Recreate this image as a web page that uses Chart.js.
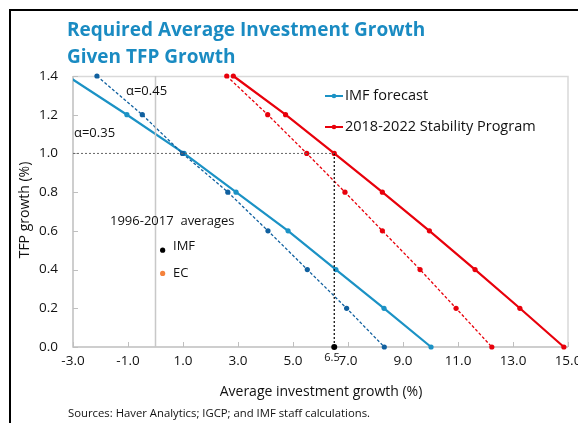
<!DOCTYPE html>
<html><head><meta charset="utf-8">
<script src="https://cdn.jsdelivr.net/npm/chart.js@4"></script>
<style>html,body{margin:0;padding:0;background:#fff}#wrap{width:578px;height:423px;position:relative}canvas{display:block}</style>
</head><body><div id="wrap"><canvas id="c" width="578" height="423"></canvas></div>
<script>
// ---- data ----
const tfpLevels   = [1.4, 1.2, 1.0, 0.8, 0.6, 0.4, 0.2, 0.0];
const imfAlpha035 = [-3.2, -1.04, 1.04, 2.93, 4.82, 6.56, 8.31, 10.02];
const imfAlpha045 = [-2.13, -0.48, 0.98, 2.63, 4.09, 5.52, 6.95, 8.32];
const spAlpha035  = [2.83, 4.73, 6.5, 8.25, 9.96, 11.62, 13.25, 14.85];
const spAlpha045  = [2.59, 4.08, 5.5, 6.89, 8.25, 9.62, 10.93, 12.23];
const avgIMF = {x: 0.26, y: 0.50};
const avgEC  = {x: 0.26, y: 0.38};
const targetTFP = 1.0;
const targetInv = 6.5;
const xMin = -3, xMax = 15, xStep = 2;
const yMin = 0, yMax = 1.4, yStep = 0.2;

const BLUE = '#1B92C5', DBLUE = '#10609F', RED = '#E8000B', ORANGE = '#F4823C';
const FONT = '"Open Sans", "Noto Sans", sans-serif';

const pts = arr => arr.map((x, i) => ({x: x, y: tfpLevels[i]}));
const rad = c => (c.raw && (c.raw.x < xMin || c.raw.x > xMax)) ? 0 : 2.6;
const CLIP = {left: 0, top: 5, right: 5, bottom: 5};

const decor = {
  id: 'decor',
  beforeDatasetsDraw(chart) {
    const {ctx, chartArea: a} = chart;
    ctx.save();
    ctx.strokeStyle = '#D9D9D9'; ctx.lineWidth = 1.5;
    ctx.beginPath(); ctx.moveTo(a.left, a.top + 0.5); ctx.lineTo(a.right, a.top + 0.5); ctx.lineTo(a.right, a.bottom); ctx.stroke();
    ctx.strokeStyle = '#BFBFBF'; ctx.lineWidth = 1.5;
    ctx.beginPath(); ctx.moveTo(a.left, a.top); ctx.lineTo(a.left, a.bottom); ctx.lineTo(a.right, a.bottom); ctx.stroke();
    // inward tick marks
    const xs = chart.scales.x, ys = chart.scales.y;
    ctx.lineWidth = 1;
    xs.ticks.forEach(t => { const px = Math.round(xs.getPixelForValue(t.value)) + 0.5; ctx.beginPath(); ctx.moveTo(px, a.bottom); ctx.lineTo(px, a.bottom - 5); ctx.stroke(); });
    ys.ticks.forEach(t => { const py = Math.round(ys.getPixelForValue(t.value)) + 0.5; ctx.beginPath(); ctx.moveTo(a.left, py); ctx.lineTo(a.left + 5, py); ctx.stroke(); });
    ctx.restore();
  },
  afterDraw(chart) {
    const {ctx} = chart;
    ctx.save();
    // frame
    ctx.strokeStyle = '#000'; ctx.lineWidth = 2;
    ctx.beginPath(); ctx.moveTo(10, 430); ctx.lineTo(10, 10); ctx.lineTo(590, 10); ctx.stroke();
    // title
    ctx.fillStyle = '#1A8BC2';
    ctx.font = 'bold 19px ' + FONT;
    ctx.textBaseline = 'alphabetic'; ctx.textAlign = 'left';
    ctx.fillText('Required Average Investment Growth', 67, 36);
    ctx.fillText('Given TFP Growth', 67, 63);
    // axis titles
    ctx.fillStyle = '#111';
    ctx.font = '14px ' + FONT;
    ctx.textAlign = 'center'; ctx.textBaseline = 'middle';
    ctx.fillText('Average investment growth (%)', 321, 392);
    ctx.save(); ctx.translate(25, 210); ctx.rotate(-Math.PI / 2); ctx.fillText('TFP growth (%)', 0, 0); ctx.restore();
    // annotations
    ctx.font = '13px ' + FONT;
    ctx.textAlign = 'left';
    ctx.fillText('\u03b1=0.45', 126, 91);
    ctx.fillText('\u03b1=0.35', 74, 133);
    ctx.fillText('1996-2017  averages', 110, 221);
    ctx.fillText('IMF', 173, 246);
    ctx.fillText('EC', 173, 273);
    ctx.font = '11px ' + FONT; ctx.textAlign = 'center';
    ctx.fillText(String(targetInv), 332, 358);
    // legend
    const leg = [[BLUE, 'IMF forecast', 96], [RED, '2018-2022 Stability Program', 127]];
    leg.forEach(([c, txt, y]) => {
      ctx.strokeStyle = c; ctx.lineWidth = 2;
      ctx.beginPath(); ctx.moveTo(325, y); ctx.lineTo(343, y); ctx.stroke();
      ctx.fillStyle = c; ctx.beginPath(); ctx.arc(334, y, 2.3, 0, Math.PI * 2); ctx.fill();
      ctx.fillStyle = '#111'; ctx.font = '14.5px ' + FONT; ctx.textAlign = 'left';
      ctx.fillText(txt, 345, y);
    });
    // source
    ctx.font = '11px ' + FONT;
    const src = 'Sources: Haver Analytics; IGCP; and IMF staff calculations.';
    const w = ctx.measureText(src).width;
    ctx.save(); ctx.translate(68, 414); ctx.scale(302 / w, 1); ctx.fillText(src, 0, 0); ctx.restore();
    ctx.restore();
  }
};

new Chart(document.getElementById('c'), {
  type: 'scatter',
  data: {
    datasets: [
      {data: [{x: 0, y: yMin}, {x: 0, y: yMax}], borderColor: '#C8C8C8', borderWidth: 1.5, showLine: true, pointRadius: 0},
      {data: [{x: xMin, y: targetTFP}, {x: targetInv, y: targetTFP}], borderColor: '#666', borderWidth: 1, borderDash: [2, 2], showLine: true, pointRadius: 0},
      {data: [{x: targetInv, y: yMin}, {x: targetInv, y: targetTFP}], borderColor: '#000', borderWidth: 1.2, borderDash: [2, 2], showLine: true,
        pointRadius: [3, 0], pointBackgroundColor: '#000', pointBorderWidth: 0, clip: CLIP},
      {data: pts(imfAlpha045), borderColor: DBLUE, borderWidth: 1.3, borderDash: [3, 2], showLine: true,
        pointRadius: rad, pointBackgroundColor: DBLUE, pointBorderWidth: 0, clip: CLIP},
      {data: pts(imfAlpha035), borderColor: BLUE, borderWidth: 2.2, showLine: true,
        pointRadius: rad, pointBackgroundColor: BLUE, pointBorderWidth: 0, clip: CLIP},
      {data: pts(spAlpha045), borderColor: RED, borderWidth: 1.3, borderDash: [3, 2], showLine: true,
        pointRadius: rad, pointBackgroundColor: RED, pointBorderWidth: 0, clip: CLIP},
      {data: pts(spAlpha035), borderColor: RED, borderWidth: 2.2, showLine: true,
        pointRadius: rad, pointBackgroundColor: RED, pointBorderWidth: 0, clip: CLIP},
      {data: [avgIMF], pointRadius: 2.6, pointBackgroundColor: '#000', pointBorderWidth: 0},
      {data: [avgEC], pointRadius: 2.6, pointBackgroundColor: ORANGE, pointBorderWidth: 0}
    ]
  },
  options: {
    responsive: false, animation: false, devicePixelRatio: 1,
    layout: {padding: {top: 76, right: 10, left: 0, bottom: 0}},
    plugins: {legend: {display: false}, tooltip: {enabled: false}, title: {display: false}},
    elements: {line: {tension: 0}},
    scales: {
      x: {type: 'linear', min: xMin, max: xMax,
        ticks: {stepSize: xStep, callback: v => v.toFixed(1), color: '#111', font: {family: FONT, size: 13.5}, padding: 6, maxRotation: 0, autoSkip: false},
        grid: {display: false, drawTicks: false}, border: {display: false},
        afterFit: s => { s.height = 76; s.paddingLeft = 0; s.paddingRight = 0; }},
      y: {type: 'linear', min: yMin, max: yMax,
        ticks: {stepSize: yStep, callback: v => v.toFixed(1), color: '#111', font: {family: FONT, size: 13.5}, padding: 15},
        grid: {display: false, drawTicks: false}, border: {display: false},
        afterFit: s => { s.width = 73; s.paddingTop = 0; s.paddingBottom = 0; }}
    }
  },
  plugins: [decor]
});
</script></body></html>
